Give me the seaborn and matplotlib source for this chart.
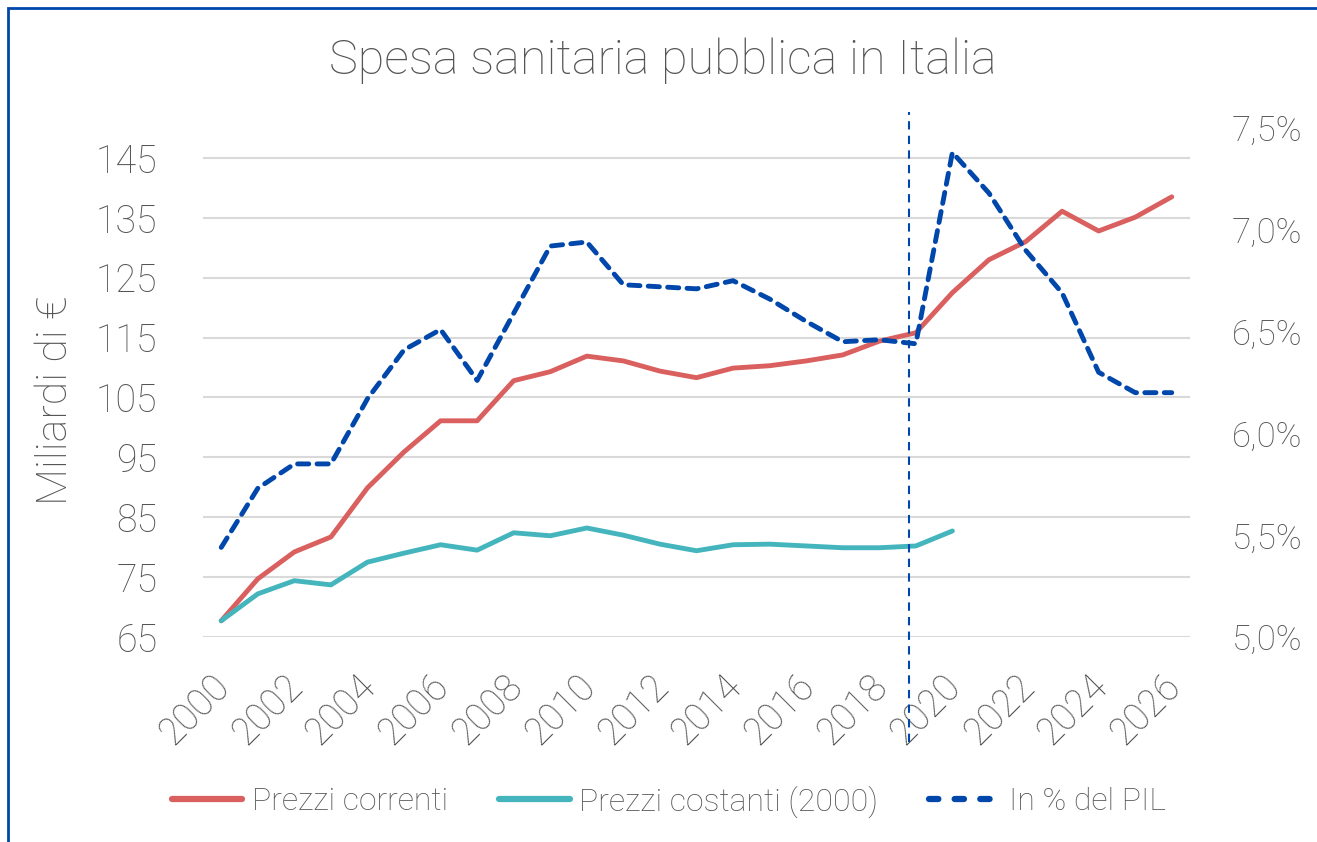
import matplotlib
matplotlib.use("Agg")
import matplotlib.pyplot as plt
import matplotlib.transforms as mtransforms
import seaborn as sns
import pandas as pd
from matplotlib.patches import Rectangle
from matplotlib.lines import Line2D

years = list(range(2000, 2027))
prezzi_correnti = [67.7, 74.7, 79.2, 81.7, 89.9, 95.9, 101.1, 101.1, 107.8, 109.3,
                   111.9, 111.1, 109.4, 108.3, 109.9, 110.3, 111.1, 112.1, 114.4, 115.8,
                   122.5, 128.0, 131.0, 136.1, 132.8, 135.1, 138.5]
years_costanti = list(range(2000, 2021))
prezzi_costanti = [67.7, 72.2, 74.4, 73.7, 77.5, 79.0, 80.4, 79.5, 82.4, 81.9,
                   83.2, 82.0, 80.5, 79.4, 80.4, 80.5, 80.2, 79.9, 79.9, 80.2, 82.7]
pil_pct = [5.44, 5.73, 5.85, 5.85, 6.17, 6.41, 6.51, 6.26, 6.59, 6.92,
           6.94, 6.73, 6.72, 6.71, 6.75, 6.66, 6.55, 6.45, 6.46, 6.44,
           7.38, 7.18, 6.90, 6.69, 6.30, 6.20, 6.20]
left_ticks = [65, 75, 85, 95, 105, 115, 125, 135, 145]
right_ticks = [5.0, 5.5, 6.0, 6.5, 7.0, 7.5]
right_labels = ["5,0%", "5,5%", "6,0%", "6,5%", "7,0%", "7,5%"]
xticks = list(range(2000, 2027, 2))

RED = "#D9605E"
TEAL = "#45B5BD"
BLUE = "#0047AB"
GRAY = "#555555"

sns.set_theme(style="white")
plt.rcParams['font.family'] = ['Roboto', 'DejaVu Sans']
plt.rcParams['font.weight'] = 'light'

fig = plt.figure(figsize=(13.17, 8.42), dpi=100)
ax = fig.add_axes([0.1541, 0.2435, 0.9036 - 0.1541, 0.848 - 0.2435])
ax2 = ax.twinx()

df1 = pd.DataFrame({"year": years, "v": prezzi_correnti})
df2 = pd.DataFrame({"year": years_costanti, "v": prezzi_costanti})
df3 = pd.DataFrame({"year": years, "v": pil_pct})

sns.lineplot(data=df1, x="year", y="v", ax=ax, color=RED, linewidth=3.5,
             solid_capstyle="round", zorder=3)
sns.lineplot(data=df2, x="year", y="v", ax=ax, color=TEAL, linewidth=3.5,
             solid_capstyle="round", zorder=3)
sns.lineplot(data=df3, x="year", y="v", ax=ax2, color=BLUE, linewidth=3.5, zorder=4)
for l in ax2.get_lines():
    l.set_dashes((2.3, 1.7))
    l.set_dash_capstyle("round")

ax.set_xlim(1999.5, 2026.5)
ax.set_ylim(65, 150)
ax2.set_ylim(5.0, 7.5)
ax.set_yticks(left_ticks)
ax.set_yticklabels([str(t) for t in left_ticks])
ax2.set_yticks(right_ticks)
ax2.set_yticklabels(right_labels)
ax.set_xticks(xticks)
ax.set_xticklabels([str(t) for t in xticks], rotation=45, ha="right",
                   rotation_mode="anchor")

ax.grid(axis="y", color="#D9D9D9", linewidth=1.5)
ax.grid(axis="x", visible=False)
for a in (ax, ax2):
    for s in a.spines.values():
        s.set_visible(False)
    a.set_xlabel("")
    a.set_ylabel("")
ax.tick_params(axis="y", labelsize=27, colors=GRAY, length=0, pad=45)
ax.tick_params(axis="x", labelsize=27, colors=GRAY, length=0, pad=22)
ax2.tick_params(axis="y", labelsize=25, colors=GRAY, length=0, pad=30)
offset = mtransforms.ScaledTranslation(-10 / 100, 0, fig.dpi_scale_trans)
for lab in ax.get_xticklabels():
    lab.set_transform(lab.get_transform() + offset)
for lab in ax.get_xticklabels() + ax.get_yticklabels() + ax2.get_yticklabels():
    lab.set_fontweight("light")
for lab in ax.get_yticklabels():
    lab.set_transform(lab.get_transform() + mtransforms.ScaledTranslation(17 / 100, 0, fig.dpi_scale_trans))

ax.set_ylabel("Miliardi di €", fontsize=31, color=GRAY, labelpad=0, fontweight="light")
ax.yaxis.set_label_coords(-0.129, 0.465)

ax.axvline(2018.8, ymin=-0.206, ymax=1.031, color=BLUE, linewidth=1.5,
           linestyle=(0, (4, 3)), clip_on=False, zorder=5)

fig.text(0.503, 0.928, "Spesa sanitaria pubblica in Italia", ha="center", va="center",
         fontsize=35, color=GRAY, fontweight="light")

handles = [Line2D([], [], color=RED, linewidth=4.5, solid_capstyle="round"),
           Line2D([], [], color=TEAL, linewidth=4.5, solid_capstyle="round"),
           Line2D([], [], color=BLUE, linewidth=4.5, dashes=(1.5, 2.6),
                  dash_capstyle="round")]
leg = fig.legend(handles, ["Prezzi correnti", "Prezzi costanti (2000)", "In % del PIL"],
                 loc="center", bbox_to_anchor=(0.508, 0.048), ncol=3, frameon=False,
                 fontsize=23, handlelength=2.2, handletextpad=0.3, columnspacing=1.6)
for t in leg.get_texts():
    t.set_color(GRAY)
    t.set_fontweight("light")

fig.patches.append(Rectangle((0.006, -0.05), 1.2, 1.04, transform=fig.transFigure,
                             fill=False, edgecolor=BLUE, linewidth=2))

fig.savefig("out.png", dpi=100)
